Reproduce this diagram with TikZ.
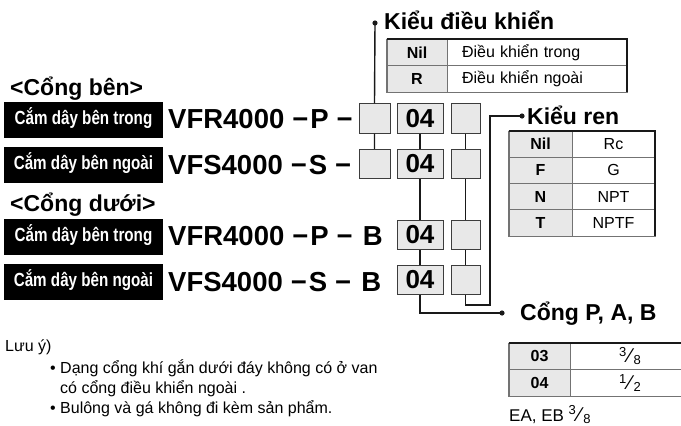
\documentclass[tikz,border=0pt]{standalone}
\usepackage{fontspec}
\setmainfont{Liberation Sans}
\newfontfamily\narrowsf[FakeStretch=0.8]{Liberation Sans}
\usepackage{tikz}
\usetikzlibrary{positioning,calc}
\definecolor{ink}{RGB}{25,25,25}
\definecolor{cell}{RGB}{232,232,232}
\definecolor{rule}{RGB}{115,115,115}
\newcommand{\fsz}[1]{\fontsize{#1}{#1}\selectfont}
\newcommand{\slfr}[2]{\raisebox{0.36em}{\fsz{13}#1}\kern2pt{\fsz{20}⁄}\kern2pt\raisebox{-0.12em}{\fsz{13}#2}}

\begin{document}
\begin{tikzpicture}[x=1pt,y=-1pt,font=\fsz{16}]
\tikzset{tag/.style={fill=black,text=white,font=\narrowsf\bfseries\fsz{19},minimum width=159,minimum height=36,inner sep=0pt,text height=13.5pt,text depth=4pt},
  model/.style={font=\bfseries\fsz{27.5},inner sep=0pt,anchor=base west},
  head/.style={font=\bfseries\fsz{23},inner sep=0pt,anchor=base west},
  slot/.style={draw=ink!85,fill=cell,line width=0.9pt,minimum height=29.5,inner sep=0pt,font=\bfseries\fsz{26}},
  keycell/.style={draw=rule,fill=cell,line width=0.8pt,inner sep=0pt,font=\bfseries\fsz{16}},
  valcell/.style={draw=rule,fill=white,line width=0.8pt,inner sep=0pt,font=\fsz{16}},
  note/.style={inner sep=0pt,anchor=base west,font=\fsz{16}},
  wire/.style={draw=ink,line width=1.4pt},topedge/.style={draw=ink,line width=2pt},lowedge/.style={draw=rule,line width=1.3pt}}
\useasboundingbox (0,0) rectangle (681,426);
\clip (0,0) rectangle (681,426);
\node[head] (hs) at (10,95) {<Cổng bên>};
\node[tag] (t1) at (83.5,120) {Cắm dây bên trong};
\node[tag] (t2) at (83.5,165) {Cắm dây bên ngoài};
\node[head] (hb) at (10,211) {<Cổng dưới>};
\node[tag] (t3) at (83.5,236.5) {Cắm dây bên trong};
\node[tag] (t4) at (83.5,281.5) {Cắm dây bên ngoài};
\node[model] (m1) at (168,128.7) {VFR4000\kern8pt−\kern2pt P\kern8pt−};
\node[model] (m2) at (168,174.2) {VFS4000\kern8pt−\kern2pt S\kern8pt−};
\node[model] (m3) at (168,245.7) {VFR4000\kern8pt−\kern2pt P\kern8pt−\kern10pt B};
\node[model] (m4) at (168,291.2) {VFS4000\kern8pt−\kern2pt S\kern8pt−\kern10pt B};
\node[slot,minimum width=31] (a1) at (374.5,118.5) {};
\node[slot,minimum width=31] (a2) at (374.5,164) {};
\node[slot,minimum width=46] (b1) at (420,118.5) {04};
\node[slot,minimum width=46] (b2) at (420,164) {04};
\node[slot,minimum width=46] (b3) at (420,235) {04};
\node[slot,minimum width=46] (b4) at (420,280) {04};
\node[slot,minimum width=29] (c1) at (465.5,118.5) {};
\node[slot,minimum width=29] (c2) at (465.5,164) {};
\node[slot,minimum width=29] (c3) at (465.5,235) {};
\node[slot,minimum width=29] (c4) at (465.5,280) {};
\node[head] (h1) at (384,29.5) {Kiểu điều khiển};
\node[head] (h2) at (527,124) {Kiểu ren};
\node[head] (h3) at (520,320.5) {Cổng P, A, B};
\coordinate (k1) at (375,23);\coordinate (e3) at (522,116);\coordinate (j3) at (490,305);\coordinate (e2) at (502,313);
\draw[wire] (k1)--(a1.north) (a1)--(a2);
\draw[wire] (b1)--(b2) (b2)--(b3) (b3)--(b4) (b4.south) |- (e2);
\draw[wire] (c1)--(c2) (c2)--(c3) (c3)--(c4) (c4.south) |- (j3) |- (e3);
\fill[ink] (k1) circle (2.6) (e3) circle (2.6) (e2) circle (2.6);
\node[keycell,minimum width=60,minimum height=26.5] (p1) at (417,52.25) {Nil};
\node[valcell,minimum height=26.5,text width=150,inner xsep=15] (q1) at (537,52.25) {Điều khiển trong};
\node[keycell,minimum width=60,minimum height=26.5] (p2) at (417,78.75) {R};
\node[valcell,minimum height=26.5,text width=150,inner xsep=15] (q2) at (537,78.75) {Điều khiển ngoài};
\draw[lowedge] (p1.north west)--(p2.south west)--(q2.south east);
\draw[topedge] (p1.north west)--(q1.north east)--(q2.south east);
\node[keycell,minimum width=63,minimum height=26.25] (r1) at (540.5,144.125) {Nil};
\node[valcell,minimum width=83,minimum height=26.25] (s1) at (613.5,144.125) {Rc};
\node[keycell,minimum width=63,minimum height=26.25] (r2) at (540.5,170.375) {F};
\node[valcell,minimum width=83,minimum height=26.25] (s2) at (613.5,170.375) {G};
\node[keycell,minimum width=63,minimum height=26.25] (r3) at (540.5,196.625) {N};
\node[valcell,minimum width=83,minimum height=26.25] (s3) at (613.5,196.625) {NPT};
\node[keycell,minimum width=63,minimum height=26.25] (r4) at (540.5,222.875) {T};
\node[valcell,minimum width=83,minimum height=26.25] (s4) at (613.5,222.875) {NPTF};
\draw[lowedge] (r1.north west)--(r4.south west)--(s4.south east);
\draw[topedge] (r1.north west)--(s1.north east)--(s4.south east);
\node[keycell,minimum width=61,minimum height=26.5] (u1) at (539.5,356.25) {03};
\node[valcell,minimum width=120,minimum height=26.5] (v1) at (630,356.25) {\slfr{3}{8}};
\node[keycell,minimum width=61,minimum height=26.5] (u2) at (539.5,382.75) {04};
\node[valcell,minimum width=120,minimum height=26.5] (v2) at (630,382.75) {\slfr{1}{2}};
\draw[lowedge] (u1.north west)--(u2.south west)--(v2.south east);
\draw[topedge] (u1.north west)--(v1.north east);
\node[note] (n0) at (5,351) {Lưu ý)};
\node[note] (n1) at (50,373) {• Dạng cổng khí gắn dưới đáy không có ở van};
\node[note] (n1b) at (60,393) {có cổng điều khiển ngoài .};
\node[note] (n2) at (50,413) {• Bulông và gá không đi kèm sản phẩm.};
\node[note,font=\fsz{17}] (ea) at (509,421) {EA, EB \slfr{3}{8}};
\end{tikzpicture}
\end{document}
